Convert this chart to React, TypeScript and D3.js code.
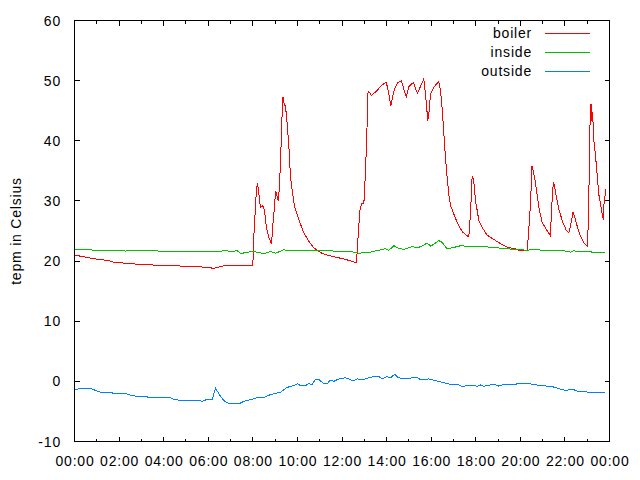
import React from "react";
import * as d3 from "d3";

const majorHours = [0, 2, 4, 6, 8, 10, 12, 14, 16, 18, 20, 22, 24];
const yTickValues = [-10, 0, 10, 20, 30, 40, 50, 60];
const seriesNames = ["boiler", "inside", "outside"];
const seriesColors = ["#ff0000", "#00c000", "#0080ff"];
const yLabel = "tepm in Celsius";

// [hour of day, temperature °C]
const boiler: [number, number][] = [
  [0, 21.0], [0.85, 20.4], [1.5, 20.1], [1.75, 19.8], [3.1, 19.4], [4.6, 19.2], [5.8, 19.0], [6.25, 18.8], [6.7, 19.2], [8.0, 19.2],
  [8.05, 24.5], [8.15, 31.2], [8.2, 32.9], [8.24, 32.2], [8.34, 28.9], [8.43, 29.2], [8.49, 28.9], [8.54, 27.8], [8.61, 25.6], [8.72, 23.9],
  [8.84, 22.8], [8.9, 26.1], [8.97, 28.9], [9.02, 31.7], [9.09, 30.8], [9.14, 30.0], [9.18, 31.7], [9.24, 36.1], [9.3, 43.3], [9.35, 47.3],
  [9.39, 46.4], [9.47, 45.6], [9.54, 42.8], [9.62, 38.9], [9.69, 33.9], [9.79, 31.1], [9.88, 28.9], [9.99, 27.8], [10.14, 26.1], [10.29, 24.7],
  [10.51, 23.3], [10.74, 22.2], [11.04, 21.4], [11.34, 21.0], [11.79, 20.6], [12.23, 20.2], [12.65, 19.7], [12.71, 23.3], [12.8, 28.3], [12.88, 29.6],
  [12.98, 29.6], [13.02, 32.2], [13.1, 39.4], [13.17, 48.3], [13.25, 48.0], [13.32, 47.5], [13.58, 48.4], [13.8, 49.3], [13.99, 49.7], [14.1, 47.8],
  [14.19, 45.8], [14.33, 48.3], [14.48, 49.6], [14.66, 50.0], [14.75, 48.9], [14.88, 47.3], [15.0, 49.0], [15.2, 49.7], [15.38, 47.9], [15.52, 49.0],
  [15.67, 50.3], [15.76, 47.2], [15.85, 43.3], [15.91, 45.0], [15.97, 47.8], [16.12, 48.9], [16.34, 49.9], [16.42, 48.3], [16.5, 45.0], [16.6, 39.4],
  [16.69, 35.0], [16.79, 31.1], [16.87, 29.2], [17.02, 27.8], [17.17, 26.4], [17.39, 24.9], [17.62, 24.2], [17.69, 24.0], [17.77, 28.3], [17.84, 34.2],
  [17.91, 33.3], [17.99, 30.0], [18.07, 28.3], [18.14, 26.7], [18.29, 25.6], [18.51, 24.3], [18.81, 23.6], [19.11, 22.9], [19.41, 22.3], [19.71, 22.1],
  [19.94, 21.8], [20.31, 21.7], [20.34, 23.3], [20.41, 26.9], [20.47, 30.6], [20.52, 35.8], [20.56, 35.3], [20.64, 33.9], [20.73, 31.7], [20.83, 28.9],
  [20.98, 26.4], [21.21, 25.0], [21.35, 24.2], [21.4, 28.6], [21.48, 33.1], [21.53, 32.5], [21.62, 30.6], [21.73, 28.6], [21.88, 26.7], [22.06, 25.1],
  [22.17, 24.7], [22.25, 25.8], [22.36, 28.1], [22.43, 27.5], [22.55, 25.8], [22.67, 24.4], [22.85, 23.0], [23.0, 22.5], [23.05, 26.1], [23.09, 34.4],
  [23.12, 42.2], [23.17, 46.1], [23.21, 43.3], [23.24, 44.7], [23.3, 40.0], [23.38, 37.2], [23.45, 34.2], [23.52, 31.1], [23.6, 29.4], [23.67, 27.8],
  [23.72, 26.9], [23.75, 29.4], [23.81, 31.1], [23.84, 31.9],
];

const inside: [number, number][] = [
  [0, 22.0], [0.72, 21.9], [0.8, 21.8], [2.21, 21.8], [2.29, 21.65], [2.44, 21.8], [2.89, 21.8], [2.96, 21.7], [3.41, 21.7], [3.5, 21.8],
  [3.6, 21.7], [4.31, 21.55], [6.55, 21.55], [6.7, 21.8], [7.0, 21.6], [7.3, 21.7], [7.45, 21.3], [7.52, 21.3], [7.97, 21.6], [8.34, 21.4],
  [8.49, 21.2], [8.79, 21.6], [9.02, 21.3], [9.39, 21.9], [9.61, 21.7], [10.29, 21.8], [11.48, 21.7], [11.93, 21.6], [12.53, 21.5], [12.75, 21.3],
  [13.28, 21.5], [13.65, 21.8], [13.95, 22.05], [14.1, 21.8], [14.33, 22.55], [14.55, 22.1], [14.77, 21.95], [15.15, 22.4], [15.37, 22.2], [15.6, 22.5],
  [15.82, 23.0], [15.97, 22.5], [16.12, 22.8], [16.34, 23.4], [16.5, 23.1], [16.72, 22.0], [16.94, 22.2], [17.32, 22.55], [17.77, 22.4], [18.36, 22.4],
  [18.96, 22.2], [19.56, 22.0], [20.31, 21.8], [20.61, 21.95], [21.21, 21.7], [21.95, 21.7], [22.25, 21.5], [22.4, 21.7], [22.63, 21.55], [23.15, 21.55],
  [23.3, 21.4], [23.82, 21.5],
];

const outside: [number, number][] = [
  [0.0, -1.4], [0.27, -1.2], [0.72, -1.2], [0.94, -1.5], [1.24, -1.9], [1.69, -1.9], [1.77, -2.1], [2.36, -2.1], [2.59, -2.4], [3.26, -2.6],
  [3.86, -2.7], [4.31, -2.7], [4.38, -2.9], [4.76, -3.2], [5.58, -3.2], [5.73, -3.3], [5.95, -3.0], [6.18, -3.0], [6.33, -1.1], [6.4, -1.6],
  [6.55, -2.5], [6.7, -3.2], [6.92, -3.7], [7.15, -3.7], [7.3, -3.7], [7.45, -3.6], [7.67, -3.2], [7.97, -3.0], [8.2, -2.7], [8.49, -2.7],
  [8.79, -2.2], [9.24, -1.8], [9.54, -1.0], [9.84, -0.7], [9.99, -0.4], [10.14, -0.7], [10.36, -0.7], [10.51, -0.4], [10.66, -0.5], [10.81, 0.3],
  [10.96, 0.3], [11.19, -0.4], [11.34, -0.4], [11.46, 0.2], [11.63, 0.0], [11.86, 0.4], [12.16, 0.6], [12.5, 0.1], [12.68, 0.4], [12.98, 0.3],
  [13.28, 0.7], [13.65, 0.8], [13.8, 0.4], [14.0, 0.8], [14.18, 0.6], [14.37, 1.2], [14.52, 0.6], [14.85, 0.4], [15.34, 0.7], [15.52, 0.3],
  [15.9, 0.4], [16.2, 0.1], [16.57, -0.2], [16.94, -0.6], [17.17, -0.5], [17.35, -0.8], [17.91, -0.7], [18.07, -0.8], [18.21, -0.6], [18.36, -0.8],
  [18.81, -0.5], [19.04, -0.8], [19.26, -0.5], [19.71, -0.6], [19.86, -0.4], [20.16, -0.4], [20.31, -0.4], [20.68, -0.5], [20.83, -0.7], [21.28, -0.8],
  [21.58, -1.0], [21.8, -1.3], [22.03, -1.5], [22.18, -1.4], [22.4, -1.4], [22.55, -1.6], [22.78, -1.7], [23.07, -1.8], [23.15, -1.9], [23.82, -1.9],
];

const seriesData = [boiler, inside, outside];

const W = 640;
const H = 480;
const baseDate = new Date(2013, 0, 1, 0, 0, 0);
const toDate = (h: number) => new Date(baseDate.getTime() + h * 3600000);
const FONT = "'Liberation Sans', Arial, sans-serif";

export default function App() {
  const x = d3.scaleTime().domain([toDate(0), toDate(24)]).range([74.5, 609.5]);
  const y = d3.scaleLinear().domain([-10, 60]).range([441.5, 20.5]);
  const fmt = d3.timeFormat("%H:%M");
  const majorTicks = majorHours.map(toDate);
  const minorTicks = x.ticks(d3.timeHour.every(1)!).filter((d) => !majorTicks.some((m) => +m === +d));
  const line = d3
    .line<[number, number]>()
    .x((d) => x(toDate(d[0])))
    .y((d) => y(d[1]));
  const [x0, x1] = x.range();
  const [yb, yt] = y.range();
  const textStyle: React.CSSProperties = { fontFamily: FONT, fontSize: 14, letterSpacing: 0.8 };

  return (
    <svg
      width={W}
      height={H}
      style={{ position: "absolute", left: 0, top: 0, background: "#fff" }}
      shapeRendering="crispEdges"
    >
      <rect x={0} y={0} width={W} height={H} fill="#fff" />
      {/* y ticks */}
      {yTickValues.map((v) => (
        <g key={"y" + v}>
          <line x1={x0} x2={x0 + 5} y1={Math.round(y(v) - 0.5) + 0.5} y2={Math.round(y(v) - 0.5) + 0.5} stroke="#000" />
          <line x1={x1} x2={x1 - 5} y1={Math.round(y(v) - 0.5) + 0.5} y2={Math.round(y(v) - 0.5) + 0.5} stroke="#000" />
          <text x={61} y={y(v) + 5} textAnchor="end" style={textStyle} fill="#000">
            {v}
          </text>
        </g>
      ))}
      {/* x ticks */}
      {majorTicks.map((d, i) => (
        <g key={"x" + i}>
          <line x1={Math.round(x(d) - 0.5) + 0.5} x2={Math.round(x(d) - 0.5) + 0.5} y1={yb} y2={yb - 5} stroke="#000" />
          <line x1={Math.round(x(d) - 0.5) + 0.5} x2={Math.round(x(d) - 0.5) + 0.5} y1={yt} y2={yt + 5} stroke="#000" />
          <text x={x(d) + 0.5} y={466} textAnchor="middle" style={textStyle} fill="#000">
            {fmt(d)}
          </text>
        </g>
      ))}
      {minorTicks.map((d, i) => (
        <g key={"m" + i}>
          <line x1={Math.round(x(d) - 0.5) + 0.5} x2={Math.round(x(d) - 0.5) + 0.5} y1={yb} y2={yb - 3} stroke="#000" />
          <line x1={Math.round(x(d) - 0.5) + 0.5} x2={Math.round(x(d) - 0.5) + 0.5} y1={yt} y2={yt + 3} stroke="#000" />
        </g>
      ))}
      {/* series */}
      {seriesData.map((s, i) => (
        <path key={seriesNames[i]} d={line(s) || ""} fill="none" stroke={seriesColors[i]} strokeWidth={1} />
      ))}
      {/* border */}
      <rect x={x0} y={yt} width={x1 - x0} height={yb - yt} fill="none" stroke="#000" />
      {/* legend */}
      {seriesNames.map((n, i) => (
        <g key={"lg" + n}>
          <text x={532} y={38 + i * 19} textAnchor="end" style={textStyle} fill="#000">
            {n}
          </text>
          <line x1={545} x2={590} y1={33.5 + i * 19} y2={33.5 + i * 19} stroke={seriesColors[i]} />
        </g>
      ))}
      {/* y label */}
      <text
        transform={`translate(${21},${231}) rotate(-90)`}
        textAnchor="middle"
        style={textStyle}
        fill="#000"
      >
        {yLabel}
      </text>
    </svg>
  );
}
